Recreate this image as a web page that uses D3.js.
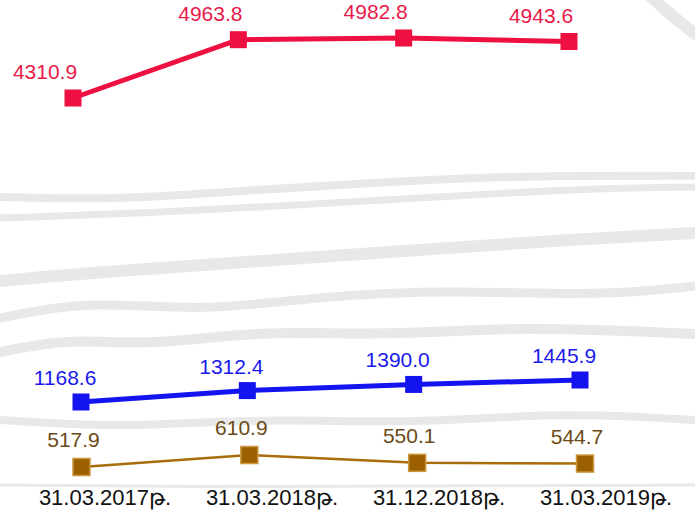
<!DOCTYPE html>
<html>
<head>
<meta charset="utf-8">
<script src="https://cdn.jsdelivr.net/npm/d3@7"></script>
<style>
	body { margin: 0; background: #fff; }
	svg { display: block; font-family: "Liberation Sans", Arial, sans-serif; }
</style>
</head>
<body>
<div id="chart"></div>
<script>
// dates on the bottom
var categories = ['31.03.2017թ.', '31.03.2018թ.', '31.12.2018թ.', '31.03.2019թ.'];

// three series, top to bottom
var redValues = [4310.9, 4963.8, 4982.8, 4943.6];
var blueValues = [1168.6, 1312.4, 1390.0, 1445.9];
var brownValues = [517.9, 610.9, 550.1, 544.7];

// background sketch strokes (decoration only)
var backdrop = [
	{ w: 8, pts: [[0, 197], [120, 200], [250, 190], [400, 181], [550, 175], [695, 176]] },
	{ w: 7, pts: [[0, 218], [150, 213], [300, 205], [450, 196], [600, 188], [695, 187]] },
	{ w: 12, pts: [[0, 281], [100, 272], [250, 262], [400, 251], [550, 241], [695, 233]] },
	{ w: 9, pts: [[0, 318], [90, 300], [200, 312], [320, 296], [450, 290], [600, 296], [695, 286]] },
	{ w: 10, pts: [[0, 352], [70, 338], [150, 346], [260, 330], [380, 336], [520, 326], [695, 334]] },
	{ w: 8, pts: [[0, 420], [120, 428], [260, 418], [420, 424], [560, 412], [695, 420]] },
	{ w: 3, pts: [[0, 485], [200, 487], [400, 486], [695, 485]] },
	{ w: 12, pts: [[650, -4], [672, 16], [695, 34]] }
];

var width = 695;
var height = 514;

var svg = d3.select('#chart').append('svg')
	.attr('width', width)
	.attr('height', height);

var sketch = d3.line().curve(d3.curveBasis);
svg.append('g').selectAll('path')
	.data(backdrop)
	.enter().append('path')
	.attr('d', function(d) { return sketch(d.pts); })
	.attr('fill', 'none')
	.attr('stroke', '#e8e8e8')
	.attr('stroke-width', function(d) { return d.w; })
	.attr('stroke-linecap', 'round');

// each series sits in its own band of the picture
var series = [
	{ values: redValues, x: [73, 569], y: [98, 38], color: '#ee1040', text: '#e8194a', lw: 5, dx: -28, dy: -19 },
	{ values: blueValues, x: [81, 580], y: [402, 380], color: '#1414f0', text: '#1a1aee', lw: 5, dx: -16, dy: -17 },
	{ values: brownValues, x: [81.5, 585], y: [467, 455], color: '#a86c0a', text: '#6b4a16', lw: 2.5, dx: -8, dy: -20, edge: '#c9973f' }
];

var size = 17;

series.forEach(function(s) {
	var x = d3.scalePoint().domain(categories).range(s.x);
	var y = d3.scaleLinear()
		.domain([d3.min(s.values), d3.max(s.values)])
		.range(s.y);
	var pts = s.values.map(function(v, i) { return { cat: categories[i], value: v }; });

	var line = d3.line()
		.x(function(d) { return x(d.cat); })
		.y(function(d) { return y(d.value); });

	var g = svg.append('g');
	g.append('path')
		.datum(pts)
		.attr('d', line)
		.attr('fill', 'none')
		.attr('stroke', s.color)
		.attr('stroke-width', s.lw);

	g.selectAll('rect')
		.data(pts)
		.enter().append('rect')
		.attr('x', function(d) { return x(d.cat) - size / 2; })
		.attr('y', function(d) { return y(d.value) - size / 2; })
		.attr('width', size)
		.attr('height', size)
		.attr('fill', s.edge ? '#9c6000' : s.color)
		.attr('stroke', s.edge || 'none')
		.attr('stroke-width', s.edge ? 1.5 : 0);

	g.selectAll('text')
		.data(pts)
		.enter().append('text')
		.attr('x', function(d) { return x(d.cat) + s.dx; })
		.attr('y', function(d) { return y(d.value) + s.dy; })
		.attr('text-anchor', 'middle')
		.attr('fill', s.text)
		.style('font-size', '21px')
		.text(function(d) { return d.value.toFixed(1); });
});

// date labels
var xCat = d3.scalePoint().domain(categories).range([105, 606]);
svg.append('g').selectAll('text')
	.data(categories)
	.enter().append('text')
	.attr('x', function(d) { return xCat(d); })
	.attr('y', 505)
	.attr('text-anchor', 'middle')
	.attr('fill', '#111')
	.style('font-size', '22px')
	.text(function(d) { return d; });
</script>
</body>
</html>
